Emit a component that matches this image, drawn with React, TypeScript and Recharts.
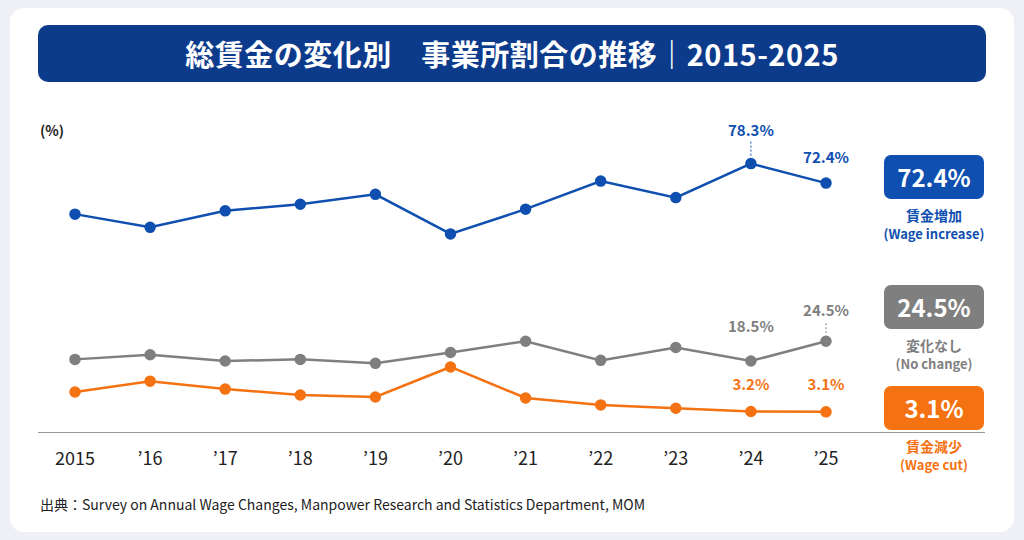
import React from 'react';
import { LineChart, Line, XAxis, YAxis, LabelList } from 'recharts';

const years = ['2015', '’16', '’17', '’18', '’19', '’20', '’21', '’22', '’23', '’24', '’25'];
const increase = [63, 59, 64, 66, 69, 57, 64.5, 73, 68, 78.3, 72.4];
const noChange = [19, 20.4, 18.5, 19, 17.8, 21.1, 24.5, 18.7, 22.6, 18.5, 24.5];
const cut = [9.1, 12.4, 10, 8.2, 7.6, 16.7, 7.3, 5.2, 4.2, 3.2, 3.1];

const BLUE = '#0f4fb0';
const GRAY = '#7f7f7f';
const ORANGE = '#f57212';
const FONT = '"Noto Sans CJK JP", "Noto Sans", sans-serif';

const data = years.map((year, i) => ({
  year,
  increase: increase[i],
  noChange: noChange[i],
  cut: cut[i],
}));

// label only the last two points; offsets in px above the dot, dashed leader where given
const makeLabel = (color: string, cfg: Record<number, { dy: number; lead?: boolean }>) =>
  (props: any) => {
    const { x, y, value, index } = props;
    const c = cfg[index];
    if (!c) return null;
    return (
      <g>
        {c.lead && (
          <line x1={x} y1={y - 8} x2={x} y2={y - c.dy + 6} stroke={color} strokeDasharray="2 2" strokeWidth={1} />
        )}
        <text x={x} y={y - c.dy} textAnchor="middle" fill={color} fontSize={15} fontWeight={700} fontFamily={FONT}>
          {`${value}%`}
        </text>
      </g>
    );
  };

const Badge = ({ top, color, value, l1, l2 }: any) => (
  <div style={{ position: 'absolute', left: 864, top, width: 140, textAlign: 'center', fontFamily: FONT, whiteSpace: 'nowrap' }}>
    <div style={{ margin: '0 20px', background: color, color: '#fff', borderRadius: 7, height: 44, lineHeight: '44px', fontSize: 24, fontWeight: 700 }}>
      {value}
    </div>
    <div style={{ color, fontSize: 14, fontWeight: 700, marginTop: 6, lineHeight: '20px' }}>{l1}</div>
    <div style={{ color, fontSize: 13, fontWeight: 700, lineHeight: '18px' }}>{l2}</div>
  </div>
);

export default function App() {
  return (
    <div style={{ position: 'absolute', left: 0, top: 0, width: 1024, height: 540, background: '#eef0f5', fontFamily: FONT }}>
      <div style={{ position: 'absolute', left: 10, top: 8, width: 1004, height: 524, background: '#fff', borderRadius: 14 }} />
      <div style={{ position: 'absolute', left: 38, top: 25, width: 948, height: 57, background: '#0d3b8c', borderRadius: 10, color: '#fff', fontSize: 29, fontWeight: 700, textAlign: 'center', lineHeight: '57px', letterSpacing: 0.5 }}>
        総賃金の変化別　事業所割合の推移｜2015-2025
      </div>
      <div style={{ position: 'absolute', left: 40, top: 120, fontSize: 14, fontWeight: 700, color: '#222' }}>(%)</div>
      <div style={{ position: 'absolute', left: 38, top: 432, width: 947, height: 1, background: '#9a9a9a' }} />
      <div style={{ position: 'absolute', left: 0, top: 0 }}>
        <LineChart width={1024} height={540} data={data} margin={{ top: 141.5, right: 198, bottom: 78, left: 75 }}>
          <XAxis dataKey="year" height={30} axisLine={false} tickLine={false} tick={{ fill: '#222', fontSize: 18, fontFamily: FONT }} tickMargin={14} interval={0} />
          <YAxis hide domain={[-3, 85]} />
          <Line dataKey="increase" stroke={BLUE} strokeWidth={2.5} dot={{ r: 4.5, fill: BLUE, stroke: BLUE }} isAnimationActive={false}>
            <LabelList dataKey="increase" content={makeLabel(BLUE, { 9: { dy: 28, lead: true }, 10: { dy: 20 } })} />
          </Line>
          <Line dataKey="noChange" stroke={GRAY} strokeWidth={2.5} dot={{ r: 4.5, fill: GRAY, stroke: GRAY }} isAnimationActive={false}>
            <LabelList dataKey="noChange" content={makeLabel(GRAY, { 9: { dy: 29 }, 10: { dy: 25, lead: true } })} />
          </Line>
          <Line dataKey="cut" stroke={ORANGE} strokeWidth={2.5} dot={{ r: 4.5, fill: ORANGE, stroke: ORANGE }} isAnimationActive={false}>
            <LabelList dataKey="cut" content={makeLabel(ORANGE, { 9: { dy: 22 }, 10: { dy: 22 } })} />
          </Line>
        </LineChart>
      </div>
      <Badge top={155} color={BLUE} value="72.4%" l1="賃金増加" l2="(Wage increase)" />
      <Badge top={285} color={GRAY} value="24.5%" l1="変化なし" l2="(No change)" />
      <Badge top={386} color={ORANGE} value="3.1%" l1="賃金減少" l2="(Wage cut)" />
      <div style={{ position: 'absolute', left: 40, top: 494, fontSize: 14, color: '#222' }}>
        出典：Survey on Annual Wage Changes, Manpower Research and Statistics Department, MOM
      </div>
    </div>
  );
}
